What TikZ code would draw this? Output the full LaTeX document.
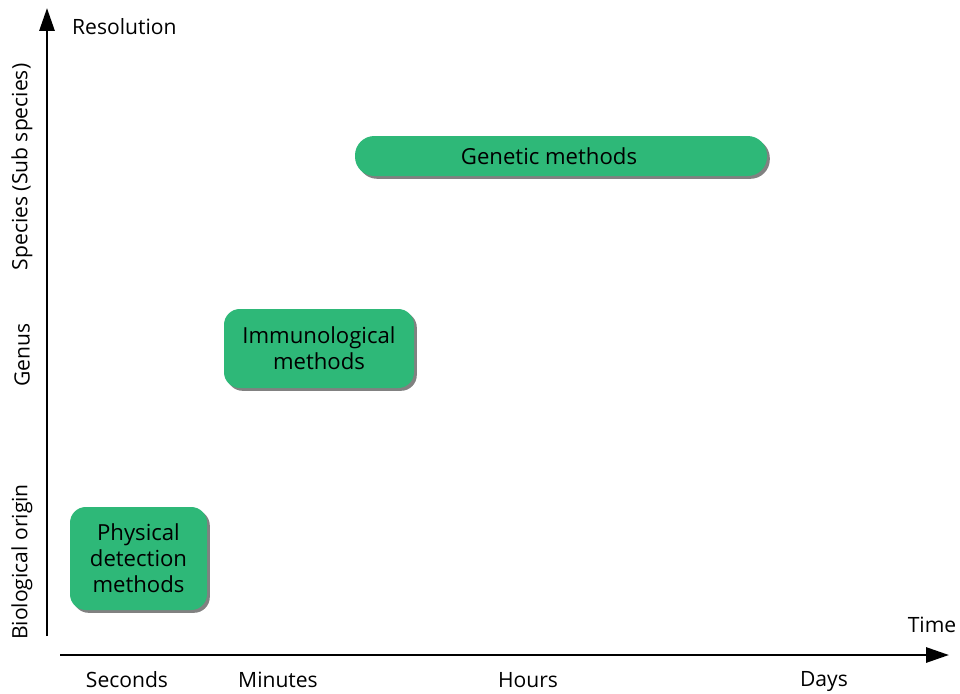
\documentclass[tikz,border=0pt]{standalone}
\usepackage{fontspec}
\setmainfont{Open Sans}
\usetikzlibrary{arrows.meta,shadows}
\definecolor{methodgreen}{RGB}{46,184,120}
\begin{document}
\begin{tikzpicture}[x=0.02cm,y=-0.02cm,
  axis/.style={line width=1.6pt,-{Triangle[length=13pt,width=8.5pt]}},
  axislabel/.style={font=\fontsize{12}{14}\selectfont},
  boxfont/.style={font=\fontsize{12.6}{14.7}\selectfont},
  method/.style={fill=methodgreen,rounded corners=9pt,align=center,
    boxfont,inner sep=0pt,
    drop shadow={shadow xshift=1.6pt,shadow yshift=-1.6pt,fill=black!55,opacity=0.9}},
]
\useasboundingbox (0,0) rectangle (960,693);
% axes
\coordinate (yo) at (47,636);
\coordinate (ytip) at (47,8);
\coordinate (xo) at (60,655);
\coordinate (xtip) at (949,655);
\draw[axis] (yo) -- (ytip);
\draw[axis] (xo) -- (xtip);
\node[axislabel,anchor=west] (res) at (66,27) {Resolution};
\node[axislabel] (time) at (932,625) {Time};
% time ticks
\node[axislabel] (sec) at (127,680) {Seconds};
\node[axislabel] (min) at (278,680) {Minutes};
\node[axislabel] (hrs) at (528,680) {Hours};
\node[axislabel] (days) at (824,681) {Days};
% resolution levels
\node[axislabel,rotate=90] (bio) at (22,562) {Biological origin};
\node[axislabel,rotate=90] (genus) at (22,355) {Genus};
\node[axislabel,rotate=90] (species) at (22,167) {Species (Sub species)};
% method boxes
\node[method,minimum width=137*0.02cm,minimum height=103*0.02cm] (phys) at (138.5,558.5) {Physical\\detection\\methods};
\node[method,minimum width=190*0.02cm,minimum height=79*0.02cm] (immu) at (319,348.5) {Immunological\\methods};
\node[method,rounded corners=11pt,minimum width=412*0.02cm,minimum height=40*0.02cm] (gen) at (561,156) {};
\node[boxfont] (gentext) at (549,156) {Genetic methods};
\end{tikzpicture}
\end{document}
